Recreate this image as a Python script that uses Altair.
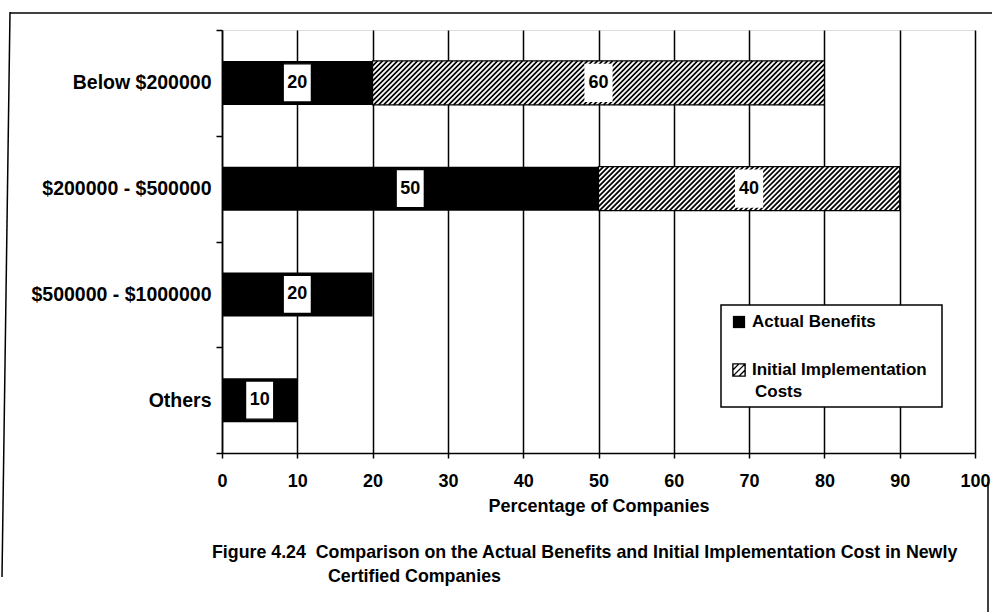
import json
import altair as alt
import pandas as pd

# ---- data -------------------------------------------------------------
categories = ["Below $200000", "$200000 - $500000", "$500000 - $1000000", "Others"]
actual_benefits = [20, 50, 20, 10]
implementation_costs = [60, 40, 0, 0]
series_names = ["Actual Benefits", "Initial Implementation Costs"]
x_ticks = [0, 10, 20, 30, 40, 50, 60, 70, 80, 90, 100]
x_title = "Percentage of Companies"
legend_lines = [["Actual Benefits"], ["Initial Implementation", "Costs"]]
caption_lines = [
    "Figure 4.24\u00a0\u00a0Comparison on the Actual Benefits and Initial Implementation Cost in Newly",
    "Certified Companies",
]

# ---- layout -----------------------------------------------------------
PLOT_W, PLOT_H = 753, 423
PAD_L, PAD_T = 222, 30
BAR_H = 44            # bar thickness in px
FONT = "Liberation Sans"
X_MAX = 100
HATCH_PERIOD = 5.0    # horizontal distance between hatch lines, px

n_cat = len(categories)
px_per_x = PLOT_W / X_MAX
px_per_row = PLOT_H / n_cat
HB = BAR_H / 2 / px_per_row          # half bar thickness in row units
D = BAR_H / px_per_x                 # horizontal run of one 45-degree hatch line, x units
P = HATCH_PERIOD / px_per_x          # hatch spacing, x units

rows = []
for i, cat in enumerate(categories):
    for j, vals in enumerate([actual_benefits, implementation_costs]):
        if vals[i] > 0:
            rows.append({"category": cat, "idx": i, "series": series_names[j],
                         "order": j, "value": vals[i]})
df = pd.DataFrame(rows)

x_axis = alt.Axis(
    values=x_ticks, grid=True, gridColor="black", gridWidth=1.5, gridOpacity=1,
    domainColor="black", domainWidth=1.5, tickColor="black", tickSize=5, tickWidth=1.5,
    labelFont=FONT, labelFontSize=18, labelFontWeight="bold", labelColor="black",
    labelPadding=14, labelFlush=False,
    title=x_title, titleFont=FONT, titleFontSize=18, titleFontWeight="bold",
    titleColor="black", titleY=53, titleBaseline="middle",
)
x_scale = alt.Scale(domain=[0, X_MAX], nice=False, zero=True)

# rows on a continuous scale: labels at row centres, ticks at row boundaries
y_values = [k / 2 - 0.5 for k in range(2 * n_cat + 1)]
y_axis = alt.Axis(
    values=y_values, grid=False, title=None,
    domainColor="black", domainWidth=1.5, tickColor="black", tickSize=6, tickWidth=1.5,
    tickOpacity={"condition": {"test": "datum.value % 1 === 0", "value": 0}, "value": 1},
    labelExpr=f"datum.value % 1 === 0 ? {json.dumps(categories)}[datum.value] : ''",
    labelFont=FONT, labelFontSize=19.5, labelFontWeight="bold", labelColor="black",
    labelPadding=5, labelLimit=400,
)
y_scale = alt.Scale(domain=[-0.5, n_cat - 0.5], reverse=True, nice=False, zero=False)


def X(field):
    return alt.X(f"{field}:Q", scale=x_scale, axis=x_axis)


def Y(field):
    return alt.Y(f"{field}:Q", scale=y_scale, axis=y_axis)


stacked = alt.Chart(df).transform_stack(
    stack="value", groupby=["category"], as_=["x0", "x1"], sort=[alt.SortField("order")]
).transform_calculate(
    mid="(datum.x0 + datum.x1) / 2",
    ytop=f"datum.idx - {HB}",
    ybot=f"datum.idx + {HB}",
)

# solid bars
benefit_bars = stacked.transform_filter(alt.datum.order == 0).mark_bar(
    color="black"
).encode(x=X("x0"), x2="x1:Q", y=Y("ytop"), y2="ybot:Q")

# hatched bars: white body, diagonal lines clipped to the bar, outline
cost_rows = stacked.transform_filter(alt.datum.order == 1)
cost_body = cost_rows.mark_bar(color="white").encode(
    x=X("x0"), x2="x1:Q", y=Y("ytop"), y2="ybot:Q"
)
hatch_lines = cost_rows.transform_calculate(
    start=f"sequence(datum.x0 - {D}, datum.x1, {P})"
).transform_flatten(["start"]).transform_calculate(
    s0=f"max(0, (datum.x0 - datum.start) / {D})",
    s1=f"min(1, (datum.x1 - datum.start) / {D})",
).transform_filter("datum.s1 > datum.s0").transform_calculate(
    hx0=f"datum.start + datum.s0 * {D}",
    hx1=f"datum.start + datum.s1 * {D}",
    hy0=f"datum.ybot - datum.s0 * {2 * HB}",
    hy1=f"datum.ybot - datum.s1 * {2 * HB}",
).mark_rule(color="black", strokeWidth=1.7, strokeCap="butt").encode(
    x=X("hx0"), x2="hx1:Q", y=Y("hy0"), y2="hy1:Q"
)
cost_outline = cost_rows.mark_bar(
    fill="transparent", stroke="black", strokeWidth=1.2
).encode(x=X("x0"), x2="x1:Q", y=Y("ytop"), y2="ybot:Q")

# value labels in white boxes
BOX_PATH = "M-0.74,-1H0.74V1H-0.74Z"
label_boxes = stacked.mark_point(
    shape=BOX_PATH, size=1450, filled=True, fill="white", stroke="black",
    strokeWidth=1.3, opacity=1,
).encode(
    x=X("mid"), y=Y("idx"),
    strokeOpacity=alt.condition(alt.datum.order == 0, alt.value(1), alt.value(0)),
)
label_text = stacked.mark_text(
    font=FONT, fontSize=18, fontWeight="bold", color="black", baseline="middle"
).encode(x=X("mid"), y=Y("idx"), text="value:Q")

# legend
one = pd.DataFrame({"k": [0]})
base1 = alt.Chart(one)
legend_box = base1.mark_rect(fill="white", stroke="black", strokeWidth=1.5).encode(
    x=alt.value(499), x2=alt.value(720), y=alt.value(275), y2=alt.value(377)
)
legend_sym_solid = base1.mark_point(
    shape="square", size=150, filled=True, color="black", opacity=1
).encode(x=alt.value(517), y=alt.value(292))
legend_sym_hatch = base1.mark_point(
    shape="M-1,-1H1V1H-1Z M-1,0L0,-1 M-1,1L1,-1 M0,1L1,0", size=150,
    filled=False, color="black", strokeWidth=1.4, opacity=1,
).encode(x=alt.value(517), y=alt.value(340))
legend_texts = []
for lines, y0 in zip(legend_lines, [292, 340]):
    for k, line in enumerate(lines):
        legend_texts.append(
            base1.mark_text(
                font=FONT, fontSize=17, fontWeight="bold", color="black",
                align="left", baseline="middle",
            ).encode(
                x=alt.value(530 + (3 if k else 0)), y=alt.value(y0 + 22 * k),
                text=alt.value(line),
            )
        )

# caption under the chart
caption = [
    base1.mark_text(
        font=FONT, fontSize=17.8, fontWeight="bold", color="black",
        align="left", baseline="middle",
    ).encode(x=alt.value(cx), y=alt.value(cy), text=alt.value(line))
    for line, cx, cy in zip(caption_lines, [-10, 106], [523, 547])
]

# page frame
frame = [
    base1.mark_rule(color="black", strokeWidth=1.5).encode(
        x=alt.value(-212), x2=alt.value(770), y=alt.value(-17)
    ),
    base1.mark_rule(color="black", strokeWidth=1.5).encode(
        x=alt.value(-212), x2=alt.value(-220), y=alt.value(-18), y2=alt.value(547)
    ),
    base1.mark_rule(color="black", strokeWidth=1.5).encode(
        x=alt.value(766), x2=alt.value(766), y=alt.value(452), y2=alt.value(582)
    ),
]

chart = alt.layer(
    benefit_bars, cost_body, hatch_lines, cost_outline, label_boxes, label_text,
    legend_box, legend_sym_solid, legend_sym_hatch, *legend_texts,
    *caption, *frame,
).properties(
    width=PLOT_W, height=PLOT_H,
    autosize=alt.AutoSizeParams(type="none"),
    padding={"left": PAD_L, "top": PAD_T, "right": 992 - PAD_L - PLOT_W, "bottom": 612 - PAD_T - PLOT_H},
    background="white",
).configure_view(
    stroke="black", strokeWidth=1.5
).configure(font=FONT)

chart.save("out.html", embed_options={"renderer": "svg", "actions": False})
